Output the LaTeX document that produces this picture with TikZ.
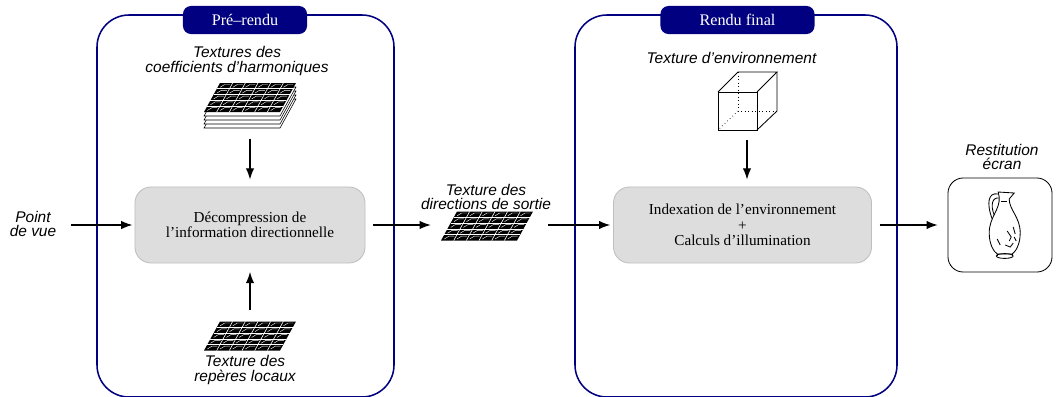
\documentclass[tikz,border=0pt]{standalone}
\usepackage{fontspec}
\setmainfont{Liberation Serif}
\setsansfont{Liberation Sans}
\usetikzlibrary{arrows.meta}

\definecolor{stagecol}{RGB}{0,0,128}
\definecolor{boxfill}{RGB}{221,221,221}
\definecolor{boxline}{RGB}{190,190,190}

\tikzset{
	stage/.style={draw=stagecol, line width=1.1pt, rounded corners=0.8cm},
	stagetab/.style={fill=stagecol, text=white, rounded corners=0.2cm, minimum height=0.7cm, inner sep=0pt, font=\fontsize{11.5}{13}\selectfont},
	procbox/.style={fill=boxfill, draw=boxline, line width=0.6pt, rounded corners=0.4cm, minimum height=1.9cm, align=center, font=\fontsize{10.8}{11}\selectfont},
	lbl/.style={align=center, inner sep=0pt, font=\sffamily\itshape\fontsize{11}{10.5}\selectfont},
	texslot/.style={inner sep=0pt, minimum width=2.3cm, minimum height=0.75cm},
	flow/.style={-{Latex[length=2.8mm,width=2.1mm]}, line width=0.9pt},
	% one texture: 6x5 black cells on a slanted sheet
	texmap/.pic={
		\begin{scope}[xslant=0.55]
			\fill (-38,-14.5) rectangle (38,14.5);
			\foreach \c in {1,...,5}
				\draw[white, line width=0.45pt] (-38+\c*12.667,-14.5) -- ++(0,29);
			\foreach \r in {1,...,4}
				\draw[white, line width=0.45pt] (-38,-14.5+\r*5.8) -- ++(76,0);
			\foreach \c in {0,...,5}{
				\foreach \r in {0,...,4}{
					\draw[white, line width=0.3pt] (-38+\c*12.667+2.5,-14.5+\r*5.8+4.3) -- ++(3,-2.8) -- ++(5.5,0);
				}
			}
		\end{scope}
	},
	% several textures piled up
	texstack/.pic={
		\foreach \k in {4,3,2,1}{
			\begin{scope}[shift={(0,\k*4)}]
				\filldraw[fill=white, line width=0.4pt, xslant=0.55] (-38,-14.5) rectangle (38,14.5);
			\end{scope}
		}
		\pic {texmap};
	},
	envcube/.pic={
		\draw[line width=0.5pt, dotted] (-9,-29) -- (-9,10) -- (30,10);
		\draw[line width=0.5pt, dotted] (-9,10) -- (-29,29);
		\draw[line width=0.6pt] (-29,-9) rectangle (10,29);
		\draw[line width=0.6pt] (-29,-9) -- (-9,-29) -- (30,-29) -- (10,-9);
		\draw[line width=0.6pt] (30,-29) -- (30,10) -- (10,29);
	}
}

\begin{document}
\begin{tikzpicture}[x=0.025cm, y=-0.025cm]
	\useasboundingbox (0,0) rectangle (1056,396);

	% the two stages
	\draw[stage] (97,15) rectangle (394,397);
	\draw[stage] (575,15) rectangle (897,397);
	\node[stagetab, minimum width=3.1cm] (pretab) at (245,20) {Pré–rendu};
	\node[stagetab, minimum width=3.85cm] (finaltab) at (737.5,20) {Rendu final};

	% processing boxes
	\node[procbox, minimum width=5.75cm] (decomp) at (250,225) {Décompression de\\l'information directionnelle};
	\node[procbox, minimum width=6.45cm] (illum) at (742.5,225) {Indexation de l'environnement\\+\\Calculs d'illumination};
	\node[draw, line width=0.6pt, rounded corners=0.38cm, minimum width=2.6cm, minimum height=2.35cm] (screen) at (1000,225) {};

	% textures
	\node[texslot, minimum height=1.2cm] (texcoef) at (250,106) {};
	\pic at (250,97.5) {texstack};
	\node[texslot] (texrep) at (250,336) {};
	\pic at (250,336) {texmap};
	\node[texslot] (texdir) at (487,226) {};
	\pic at (487,226) {texmap};
	\node[texslot, minimum width=1.5cm, minimum height=1.45cm] (cube) at (747,101) {};
	\pic at (747,101) {envcube};

	% labels
	\node[lbl] (pdv) at (33,224) {Point\\de vue};
	\node[lbl] (lcoef) at (237,61) {Textures des\\coefficients d'harmoniques};
	\node[lbl] (lrep) at (245,370) {Texture des\\repères locaux};
	\node[lbl] (ldir) at (486,197) {Texture des\\directions de sortie};
	\node[lbl] (lenv) at (731.5,58) {Texture d'environnement};
	\node[lbl] (lscreen) at (1002,157) {Restitution\\écran};

	% the jug on screen
	\begin{scope}[shift={(screen.center)}, xshift=0.08cm, line width=0.6pt]
		\draw (-4,-28) .. controls (-3,-15) and (-14,-8) .. (-14,8) .. controls (-14,20) and (-9,27) .. (-6,29) -- (9,29) .. controls (12,27) and (17,20) .. (17,8) .. controls (17,-8) and (6,-15) .. (6,-26) -- (11,-32) -- (-5,-33) -- cycle;
		\draw (-5,-31) .. controls (-15,-33) and (-17,-22) .. (-11,-6);
		\draw (-4,-27) .. controls (-11,-28) and (-13,-20) .. (-9,-10);
		\draw (1.5,31) ellipse [x radius=0.21cm, y radius=0.06cm];
		\draw (-6,29) -- (-6,31);
		\draw (9,29) -- (9,31);
		\draw (4,6) -- (8,12) -- (6,16) (10,2) -- (12,9) (-6,14) -- (-3,20) (2,20) -- (7,22) -- (10,18) (11,12) -- (13,16);
		\draw (-2,-24) -- (4,-24);
	\end{scope}

	% flow of data
	\draw[flow, shorten <=10.5pt, shorten >=1.5pt] (pdv.east |- decomp.west) -- (decomp.west);
	\draw[flow, shorten <=5.5pt, shorten >=7pt] (decomp.east) -- (decomp.east -| texdir.west);
	\draw[flow, shorten <=10.5pt, shorten >=2pt] (texdir.east |- illum.west) -- (illum.west);
	\draw[flow, shorten <=5.5pt, shorten >=7pt] (illum.east) -- (screen.west);
	\draw[flow, shorten <=6pt, shorten >=5pt] (texcoef.south) -- (decomp.north);
	\draw[flow, shorten <=7.5pt, shorten >=6pt] (texrep.north) -- (decomp.south);
	\draw[flow, shorten <=7pt, shorten >=5pt] (cube.south) -- (cube.south |- illum.north);
\end{tikzpicture}
\end{document}
